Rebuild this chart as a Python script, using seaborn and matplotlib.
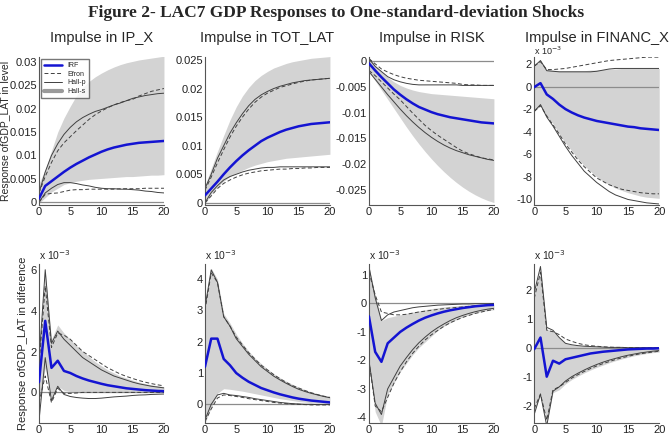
import numpy as np
import pandas as pd
import matplotlib
matplotlib.use('Agg')
import matplotlib.pyplot as plt
from matplotlib.lines import Line2D
import seaborn as sns

# horizon
steps = list(range(21))

# ---- GDP_LAT in level ----
# IP_X
lvl_ipx_irf = [0.0008, 0.0035, 0.0045, 0.0055, 0.0065, 0.0074, 0.0082, 0.0089, 0.0096, 0.0102, 0.0108,
               0.0113, 0.0117, 0.0120, 0.0123, 0.0125, 0.0127, 0.0128, 0.0129, 0.0130, 0.0131]
lvl_ipx_hs_lo = [-0.0002, 0.0010, 0.0022, 0.0030, 0.0038, 0.0042, 0.0045, 0.0047, 0.0049, 0.0050, 0.0051,
                 0.0052, 0.0053, 0.0054, 0.0055, 0.0055, 0.0056, 0.0057, 0.0058, 0.0058, 0.0059]
lvl_ipx_hs_hi = [0.0040, 0.0070, 0.0110, 0.0150, 0.0180, 0.0205, 0.0228, 0.0245, 0.0258, 0.0268, 0.0276,
                 0.0283, 0.0289, 0.0294, 0.0298, 0.0301, 0.0304, 0.0306, 0.0308, 0.0310, 0.0312]
lvl_ipx_hp_lo = [0.0000, 0.0020, 0.0030, 0.0038, 0.0042, 0.0042, 0.0040, 0.0037, 0.0035, 0.0032, 0.0030,
                 0.0029, 0.0029, 0.0028, 0.0028, 0.0027, 0.0026, 0.0024, 0.0023, 0.0021, 0.0020]
lvl_ipx_hp_hi = [0.0020, 0.0065, 0.0100, 0.0125, 0.0145, 0.0160, 0.0172, 0.0181, 0.0188, 0.0194, 0.0198,
                 0.0203, 0.0208, 0.0212, 0.0217, 0.0222, 0.0225, 0.0228, 0.0230, 0.0232, 0.0233]
lvl_ipx_ef_lo = [0.0000, 0.0017, 0.0019, 0.0020, 0.0023, 0.0026, 0.0027, 0.0027, 0.0028, 0.0028, 0.0028,
                 0.0028, 0.0028, 0.0029, 0.0029, 0.0029, 0.0029, 0.0030, 0.0030, 0.0030, 0.0030]
lvl_ipx_ef_hi = [0.0020, 0.0055, 0.0085, 0.0110, 0.0127, 0.0140, 0.0153, 0.0165, 0.0177, 0.0187, 0.0195,
                 0.0202, 0.0208, 0.0213, 0.0217, 0.0220, 0.0227, 0.0232, 0.0237, 0.0240, 0.0243]

# TOT_LAT
lvl_tot_irf = [0.0013, 0.0025, 0.0037, 0.0050, 0.0062, 0.0073, 0.0083, 0.0092, 0.0100, 0.0108, 0.0114,
               0.0119, 0.0124, 0.0128, 0.0131, 0.0134, 0.0136, 0.0138, 0.0139, 0.0140, 0.0141]
lvl_tot_hs_lo = [-0.0002, 0.0015, 0.0028, 0.0038, 0.0046, 0.0052, 0.0057, 0.0062, 0.0066, 0.0069, 0.0072,
                 0.0074, 0.0076, 0.0078, 0.0079, 0.0080, 0.0081, 0.0082, 0.0083, 0.0084, 0.0085]
lvl_tot_hs_hi = [0.0030, 0.0060, 0.0090, 0.0118, 0.0145, 0.0168, 0.0187, 0.0202, 0.0214, 0.0223, 0.0230,
                 0.0236, 0.0240, 0.0244, 0.0247, 0.0249, 0.0251, 0.0253, 0.0254, 0.0255, 0.0256]
lvl_tot_hp_lo = [0.0000, 0.0018, 0.0030, 0.0040, 0.0046, 0.0050, 0.0054, 0.0057, 0.0059, 0.0061, 0.0062,
                 0.0062, 0.0063, 0.0063, 0.0063, 0.0063, 0.0063, 0.0063, 0.0063, 0.0063, 0.0063]
lvl_tot_hp_hi = [0.0025, 0.0050, 0.0078, 0.0100, 0.0122, 0.0140, 0.0156, 0.0170, 0.0181, 0.0189, 0.0195,
                 0.0200, 0.0204, 0.0207, 0.0210, 0.0212, 0.0214, 0.0215, 0.0216, 0.0217, 0.0218]
lvl_tot_ef_lo = [0.0000, 0.0012, 0.0025, 0.0034, 0.0040, 0.0045, 0.0049, 0.0052, 0.0054, 0.0056, 0.0057,
                 0.0058, 0.0059, 0.0059, 0.0060, 0.0060, 0.0061, 0.0061, 0.0062, 0.0062, 0.0062]
lvl_tot_ef_hi = [0.0022, 0.0045, 0.0070, 0.0093, 0.0115, 0.0134, 0.0150, 0.0164, 0.0176, 0.0185, 0.0192,
                 0.0197, 0.0202, 0.0205, 0.0208, 0.0211, 0.0213, 0.0215, 0.0216, 0.0217, 0.0218]

# RISK
lvl_risk_irf = [-0.0004, -0.0018, -0.0031, -0.0043, -0.0055, -0.0065, -0.0074, -0.0082, -0.0089, -0.0094, -0.0099,
                -0.0103, -0.0106, -0.0109, -0.0111, -0.0113, -0.0115, -0.0117, -0.0119, -0.0120, -0.0121]
lvl_risk_hs_lo = [-0.0020, -0.0038, -0.0056, -0.0074, -0.0092, -0.0110, -0.0128, -0.0145, -0.0161, -0.0176, -0.0190,
                  -0.0203, -0.0215, -0.0226, -0.0236, -0.0245, -0.0253, -0.0260, -0.0266, -0.0271, -0.0275]
lvl_risk_hs_hi = [0.0008, -0.0008, -0.0020, -0.0031, -0.0040, -0.0047, -0.0052, -0.0056, -0.0059, -0.0061, -0.0063,
                  -0.0064, -0.0065, -0.0066, -0.0067, -0.0068, -0.0069, -0.0070, -0.0071, -0.0072, -0.0073]
lvl_risk_hp_lo = [-0.0020, -0.0035, -0.0050, -0.0065, -0.0079, -0.0093, -0.0106, -0.0118, -0.0129, -0.0139, -0.0148,
                  -0.0156, -0.0163, -0.0169, -0.0174, -0.0178, -0.0182, -0.0185, -0.0188, -0.0191, -0.0193]
lvl_risk_hp_hi = [0.0005, -0.0010, -0.0020, -0.0030, -0.0036, -0.0040, -0.0043, -0.0045, -0.0046, -0.0046, -0.0046,
                  -0.0046, -0.0046, -0.0046, -0.0046, -0.0047, -0.0047, -0.0047, -0.0047, -0.0047, -0.0047]
lvl_risk_ef_lo = [-0.0018, -0.0028, -0.0040, -0.0052, -0.0064, -0.0075, -0.0088, -0.0101, -0.0113, -0.0125, -0.0135,
                  -0.0144, -0.0152, -0.0160, -0.0168, -0.0175, -0.0180, -0.0184, -0.0188, -0.0190, -0.0192]
lvl_risk_ef_hi = [0.0005, -0.0005, -0.0015, -0.0021, -0.0026, -0.0030, -0.0033, -0.0035, -0.0037, -0.0038, -0.0039,
                  -0.0040, -0.0041, -0.0042, -0.0043, -0.0045, -0.0046, -0.0046, -0.0047, -0.0047, -0.0047]

# FINANC_X (x 10^-3)
lvl_fin_irf = [-0.05, 0.3, -0.7, -1.1, -1.6, -2.0, -2.3, -2.55, -2.75, -2.9, -3.05,
               -3.15, -3.25, -3.35, -3.45, -3.55, -3.6, -3.7, -3.75, -3.8, -3.85]
lvl_fin_hs_lo = [-2.2, -1.7, -2.6, -3.3, -4.2, -5.0, -5.7, -6.4, -7.0, -7.5, -8.0,
                 -8.4, -8.7, -9.0, -9.2, -9.4, -9.55, -9.7, -9.8, -9.85, -9.9]
lvl_fin_hs_hi = [1.8, 2.3, 1.5, 1.45, 1.4, 1.4, 1.4, 1.4, 1.4, 1.45, 1.45,
                 1.5, 1.55, 1.55, 1.6, 1.6, 1.6, 1.6, 1.6, 1.6, 1.6]
lvl_fin_hp_lo = [-2.2, -1.6, -2.7, -3.5, -4.4, -5.3, -6.1, -6.8, -7.5, -8.0, -8.5,
                 -8.9, -9.3, -9.6, -9.8, -10.0, -10.1, -10.2, -10.3, -10.35, -10.4]
lvl_fin_hp_hi = [1.8, 2.3, 1.4, 1.35, 1.3, 1.3, 1.3, 1.3, 1.3, 1.3, 1.35,
                 1.45, 1.55, 1.6, 1.6, 1.6, 1.6, 1.6, 1.6, 1.6, 1.6]
lvl_fin_ef_lo = [-2.2, -1.7, -2.6, -3.4, -4.2, -5.1, -5.8, -6.5, -7.1, -7.6, -8.1,
                 -8.4, -8.7, -8.9, -9.1, -9.2, -9.3, -9.4, -9.45, -9.5, -9.5]
lvl_fin_ef_hi = [1.8, 2.2, 1.5, 1.5, 1.55, 1.6, 1.7, 1.8, 1.9, 2.0, 2.1,
                 2.2, 2.3, 2.35, 2.4, 2.45, 2.5, 2.55, 2.6, 2.6, 2.6]

# ---- GDP_LAT in difference (x 10^-3) ----
dif_ipx_irf = [0.5, 3.5, 1.2, 1.55, 1.05, 0.95, 0.8, 0.68, 0.58, 0.5, 0.42,
               0.35, 0.3, 0.25, 0.2, 0.17, 0.14, 0.11, 0.09, 0.07, 0.06]
dif_ipx_hs_lo = [-0.6, 1.2, -0.3, 0.3, 0.1, 0.05, 0.05, 0.05, 0.05, 0.05, 0.05,
                 0.05, 0.05, 0.04, 0.04, 0.03, 0.03, 0.03, 0.02, 0.02, 0.02]
dif_ipx_hs_hi = [1.5, 5.9, 2.6, 3.3, 2.9, 2.6, 2.3, 2.0, 1.75, 1.5, 1.3,
                 1.1, 0.95, 0.8, 0.7, 0.6, 0.5, 0.43, 0.37, 0.32, 0.28]
dif_ipx_hp_lo = [-1.4, 1.7, -0.4, 0.3, -0.1, -0.2, -0.25, -0.28, -0.3, -0.3, -0.28,
                 -0.25, -0.22, -0.2, -0.18, -0.15, -0.13, -0.12, -0.1, -0.09, -0.08]
dif_ipx_hp_hi = [1.5, 6.0, 2.4, 3.0, 2.6, 2.3, 2.0, 1.7, 1.5, 1.3, 1.1,
                 0.95, 0.8, 0.7, 0.6, 0.5, 0.42, 0.36, 0.3, 0.26, 0.22]
dif_ipx_ef_lo = [-0.5, 0.8, -0.5, 0.2, -0.05, -0.05, -0.03, 0.0, 0.0, 0.0, 0.0,
                 0.0, 0.0, 0.0, 0.0, 0.0, 0.0, 0.0, 0.0, 0.0, 0.0]
dif_ipx_ef_hi = [1.3, 5.2, 2.2, 2.9, 2.8, 2.6, 2.3, 2.0, 1.8, 1.6, 1.4,
                 1.2, 1.05, 0.9, 0.78, 0.68, 0.58, 0.5, 0.43, 0.37, 0.32]

dif_tot_irf = [1.2, 2.1, 2.1, 1.45, 1.25, 1.0, 0.85, 0.72, 0.62, 0.52, 0.45,
               0.38, 0.32, 0.27, 0.22, 0.18, 0.15, 0.12, 0.1, 0.08, 0.06]
dif_tot_hs_lo = [-0.6, -0.1, 0.35, 0.5, 0.48, 0.45, 0.42, 0.38, 0.34, 0.3, 0.26,
                 0.22, 0.18, 0.15, 0.12, 0.09, 0.07, 0.05, 0.04, 0.03, 0.02]
dif_tot_hs_hi = [3.2, 4.35, 4.0, 2.9, 2.6, 2.25, 1.95, 1.7, 1.48, 1.3, 1.13,
                 0.98, 0.85, 0.74, 0.64, 0.55, 0.47, 0.4, 0.34, 0.29, 0.25]
dif_tot_hp_lo = [-0.5, 0.0, 0.3, 0.35, 0.3, 0.28, 0.25, 0.22, 0.18, 0.15, 0.12,
                 0.09, 0.06, 0.04, 0.02, 0.01, 0.0, 0.0, -0.01, -0.01, -0.01]
dif_tot_hp_hi = [3.1, 4.3, 3.9, 2.8, 2.5, 2.1, 1.85, 1.6, 1.4, 1.2, 1.05,
                 0.9, 0.78, 0.67, 0.57, 0.48, 0.41, 0.35, 0.3, 0.25, 0.21]
dif_tot_ef_lo = [-0.55, -0.15, 0.2, 0.3, 0.28, 0.25, 0.22, 0.18, 0.15, 0.12, 0.09,
                 0.06, 0.04, 0.02, 0.01, 0.0, -0.01, -0.02, -0.02, -0.02, -0.02]
dif_tot_ef_hi = [3.0, 4.2, 3.9, 2.8, 2.5, 2.15, 1.9, 1.65, 1.45, 1.25, 1.1,
                 0.95, 0.82, 0.7, 0.6, 0.52, 0.44, 0.37, 0.31, 0.26, 0.22]

dif_risk_irf = [-0.45, -1.7, -2.05, -1.4, -1.2, -1.0, -0.85, -0.72, -0.6, -0.5, -0.42,
                -0.35, -0.29, -0.24, -0.2, -0.16, -0.13, -0.1, -0.08, -0.06, -0.05]
dif_risk_hs_lo = [-2.0, -3.8, -4.3, -3.2, -2.8, -2.4, -2.1, -1.8, -1.55, -1.35, -1.15,
                  -0.95, -0.8, -0.68, -0.57, -0.48, -0.4, -0.34, -0.29, -0.25, -0.22]
dif_risk_hs_hi = [1.3, 0.3, -0.6, -0.5, -0.45, -0.4, -0.35, -0.3, -0.26, -0.22, -0.18,
                  -0.15, -0.12, -0.1, -0.08, -0.06, -0.05, -0.04, -0.03, -0.02, -0.02]
dif_risk_hp_lo = [-2.0, -3.5, -3.9, -3.0, -2.6, -2.2, -1.9, -1.62, -1.38, -1.18, -1.0,
                  -0.85, -0.72, -0.6, -0.5, -0.42, -0.35, -0.29, -0.24, -0.2, -0.17]
dif_risk_hp_hi = [1.3, 0.2, -0.6, -0.4, -0.3, -0.25, -0.2, -0.15, -0.12, -0.1, -0.08,
                  -0.06, -0.05, -0.04, -0.03, -0.02, -0.02, -0.01, -0.01, -0.01, 0.0]
dif_risk_ef_lo = [-2.0, -3.6, -3.8, -3.3, -2.8, -2.4, -2.05, -1.75, -1.5, -1.28, -1.1,
                  -0.95, -0.8, -0.68, -0.58, -0.49, -0.42, -0.35, -0.3, -0.25, -0.21]
dif_risk_ef_hi = [1.1, 0.3, -0.3, -0.35, -0.4, -0.4, -0.38, -0.34, -0.3, -0.27, -0.24,
                  -0.21, -0.18, -0.16, -0.14, -0.12, -0.1, -0.08, -0.07, -0.06, -0.05]

dif_fin_irf = [-0.05, 0.35, -1.0, -0.45, -0.55, -0.4, -0.35, -0.3, -0.25, -0.2, -0.17,
               -0.14, -0.12, -0.1, -0.08, -0.06, -0.05, -0.04, -0.03, -0.03, -0.02]
dif_fin_hs_lo = [-2.2, -1.6, -2.6, -1.55, -1.45, -1.25, -1.1, -0.98, -0.87, -0.77, -0.68,
                 -0.6, -0.52, -0.45, -0.39, -0.33, -0.28, -0.24, -0.2, -0.17, -0.15]
dif_fin_hs_hi = [1.9, 2.75, 0.65, 0.55, 0.35, 0.15, 0.1, 0.07, 0.05, 0.04, 0.03,
                 0.02, 0.02, 0.01, 0.01, 0.01, 0.0, 0.0, 0.0, 0.0, 0.0]
dif_fin_hp_lo = [-2.3, -1.6, -2.7, -1.5, -1.35, -1.15, -1.0, -0.88, -0.77, -0.67, -0.58,
                 -0.5, -0.43, -0.37, -0.31, -0.26, -0.22, -0.18, -0.15, -0.12, -0.1]
dif_fin_hp_hi = [1.9, 2.8, 0.7, 0.6, 0.35, 0.15, 0.1, 0.07, 0.05, 0.04, 0.03,
                 0.02, 0.01, 0.01, 0.01, 0.0, 0.0, 0.0, 0.0, 0.0, 0.0]
dif_fin_ef_lo = [-2.1, -1.6, -2.5, -1.45, -1.35, -1.2, -1.05, -0.93, -0.82, -0.72, -0.63,
                 -0.55, -0.48, -0.41, -0.35, -0.3, -0.25, -0.21, -0.18, -0.15, -0.12]
dif_fin_ef_hi = [1.7, 2.6, 0.6, 0.55, 0.45, 0.3, 0.22, 0.15, 0.1, 0.07, 0.05,
                 0.03, 0.02, 0.01, 0.01, 0.0, 0.0, 0.0, 0.0, 0.0, 0.0]

titles = ['Impulse in IP_X', 'Impulse in TOT_LAT', 'Impulse in RISK', 'Impulse in FINANC_X']

top_panels = [
    (lvl_ipx_irf, lvl_ipx_hs_lo, lvl_ipx_hs_hi, lvl_ipx_hp_lo, lvl_ipx_hp_hi, lvl_ipx_ef_lo, lvl_ipx_ef_hi),
    (lvl_tot_irf, lvl_tot_hs_lo, lvl_tot_hs_hi, lvl_tot_hp_lo, lvl_tot_hp_hi, lvl_tot_ef_lo, lvl_tot_ef_hi),
    (lvl_risk_irf, lvl_risk_hs_lo, lvl_risk_hs_hi, lvl_risk_hp_lo, lvl_risk_hp_hi, lvl_risk_ef_lo, lvl_risk_ef_hi),
    (lvl_fin_irf, lvl_fin_hs_lo, lvl_fin_hs_hi, lvl_fin_hp_lo, lvl_fin_hp_hi, lvl_fin_ef_lo, lvl_fin_ef_hi),
]
bot_panels = [
    (dif_ipx_irf, dif_ipx_hs_lo, dif_ipx_hs_hi, dif_ipx_hp_lo, dif_ipx_hp_hi, dif_ipx_ef_lo, dif_ipx_ef_hi),
    (dif_tot_irf, dif_tot_hs_lo, dif_tot_hs_hi, dif_tot_hp_lo, dif_tot_hp_hi, dif_tot_ef_lo, dif_tot_ef_hi),
    (dif_risk_irf, dif_risk_hs_lo, dif_risk_hs_hi, dif_risk_hp_lo, dif_risk_hp_hi, dif_risk_ef_lo, dif_risk_ef_hi),
    (dif_fin_irf, dif_fin_hs_lo, dif_fin_hs_hi, dif_fin_hp_lo, dif_fin_hp_hi, dif_fin_ef_lo, dif_fin_ef_hi),
]

top_ylims = [(-0.0006, 0.031), (-0.0004, 0.0255), (-0.028, 0.0008), (-10.5, 2.6)]
top_yticks = [[0, 0.005, 0.01, 0.015, 0.02, 0.025, 0.03],
              [0, 0.005, 0.01, 0.015, 0.02, 0.025],
              [-0.025, -0.02, -0.015, -0.01, -0.005, 0],
              [-10, -8, -6, -4, -2, 0, 2]]
bot_ylims = [(-1.5, 6.3), (-0.6, 4.5), (-4.2, 1.4), (-2.6, 2.9)]
bot_yticks = [[0, 2, 4, 6], [0, 1, 2, 3, 4], [-4, -3, -2, -1, 0, 1], [-2, -1, 0, 1, 2]]

sns.set_style('white')
plt.rcParams['font.family'] = ['Liberation Sans', 'DejaVu Sans']

BAND = '#d3d3d3'
BLUE = '#1414d2'
DARK = '#404040'

fig = plt.figure(figsize=(6.72, 4.43), dpi=100)
fig.text(0.5, 0.988, 'Figure 2- LAC7 GDP Responses to One-standard-deviation Shocks',
         ha='center', va='top', family='Liberation Serif', weight='bold', size=12.5)

lefts = [0.058, 0.305, 0.549, 0.795]
width = 0.186


def draw(ax, data, ylim, yticks, legend=False):
    irf, hs_lo, hs_hi, hp_lo, hp_hi, ef_lo, ef_hi = data
    ax.fill_between(steps, hs_lo, hs_hi, color=BAND, lw=0, zorder=1)
    ax.axhline(0, color='#8c8c8c', lw=0.9, zorder=1.5)
    # Hall percentile bands
    sns.lineplot(x=steps, y=hp_lo, ax=ax, color=DARK, lw=0.7, zorder=2)
    sns.lineplot(x=steps, y=hp_hi, ax=ax, color=DARK, lw=0.7, zorder=2)
    # Efron bands
    sns.lineplot(x=steps, y=ef_lo, ax=ax, color=DARK, lw=0.7, ls=(0, (4, 2.5)), zorder=2)
    sns.lineplot(x=steps, y=ef_hi, ax=ax, color=DARK, lw=0.7, ls=(0, (4, 2.5)), zorder=2)
    sns.lineplot(x=steps, y=irf, ax=ax, color=BLUE, lw=1.8, zorder=3)
    ax.set_xlim(0, 20)
    ax.set_ylim(*ylim)
    ax.set_xticks([0, 5, 10, 15, 20])
    ax.set_yticks(yticks)
    ax.set_yticklabels(['%g' % t for t in yticks])
    ax.tick_params(labelsize=8, direction='in', length=2, pad=1.5, colors='#222222')
    for s in ['top', 'right']:
        ax.spines[s].set_visible(False)
    for s in ['left', 'bottom']:
        ax.spines[s].set_color('#555555')
        ax.spines[s].set_linewidth(0.8)
    ax.set_xlabel('')
    ax.set_ylabel('')
    if legend:
        handles = [Line2D([], [], color=BLUE, lw=1.8),
                   Line2D([], [], color=DARK, lw=0.7, ls=(0, (4, 2.5))),
                   Line2D([], [], color=DARK, lw=0.7),
                   Line2D([], [], color='#9a9a9a', lw=3)]
        ax.legend(handles, ['IRF', 'Efron', 'Hall-p', 'Hall-s'], loc='upper left',
                  fontsize=5, frameon=True, fancybox=False, edgecolor='#555555',
                  handlelength=2.6, borderpad=0.4, labelspacing=0.25, borderaxespad=0.3)


for i in range(4):
    ax = fig.add_axes([lefts[i], 0.537, width, 0.334])
    draw(ax, top_panels[i], top_ylims[i], top_yticks[i], legend=(i == 0))
    ax.set_title(titles[i], fontsize=10.5, pad=11)
    if i == 3:
        ax.text(0.0, 1.0, r'x 10$^{-3}$', transform=ax.transAxes, fontsize=6.5, va='bottom')
    if i == 0:
        ax.set_ylabel('Response ofGDP_LAT in level', fontsize=7.5)
        ax.yaxis.set_label_coords(-0.222, 0.5)

for i in range(4):
    ax = fig.add_axes([lefts[i], 0.045, width, 0.36])
    draw(ax, bot_panels[i], bot_ylims[i], bot_yticks[i])
    ax.text(0.0, 1.01, r'x 10$^{-3}$', transform=ax.transAxes, fontsize=7.5, va='bottom')
    if i == 0:
        ax.set_ylabel('Response ofGDP_LAT in diference', fontsize=8, labelpad=2)

fig.savefig('out.png', dpi=100)
